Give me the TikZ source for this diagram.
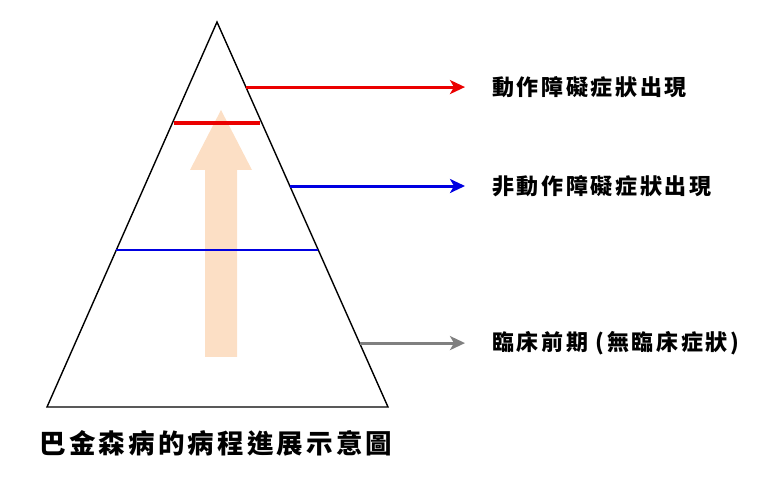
\documentclass[tikz,border=0pt]{standalone}
\usepackage{fontspec}
\newfontfamily\cjkfont[LetterSpace=12]{Noto Sans CJK TC}
\usepackage{tikz}
\usetikzlibrary{arrows.meta,positioning,calc}
\usepackage{xcolor}
\definecolor{peach}{RGB}{252,223,197}
\definecolor{stagered}{RGB}{235,0,0}
\definecolor{stageblue}{RGB}{0,0,225}
\definecolor{stagegray}{RGB}{128,128,128}

\begin{document}
\begin{tikzpicture}[x=1pt,y=-1pt,
    lbl/.style={anchor=west,inner sep=0pt,font=\cjkfont\bfseries\fontsize{22}{22}\selectfont},
    ptr/.style={line width=3pt,shorten >=27pt,-{Stealth[length=15pt,width=14pt,inset=4pt]}}]
    \useasboundingbox (0,0) rectangle (761,486);
    % progress arrow
    \fill[peach] (205,357) -- (205,170) -- (190,170) -- (221,110)
        -- (252,170) -- (237,170) -- (237,357) -- cycle;
    % pyramid
    \coordinate (apex) at (217,22);
    \coordinate (bl) at (47,407);
    \coordinate (br) at (388,407);
    \draw[line width=1.4pt] (apex) -- (br) -- (bl) -- cycle;
    % stage borders
    \draw[stagered,line width=4.5pt] ($(apex)!0.262!(bl)+(2,0)$) -- ($(apex)!0.262!(br)-(2,0)$);
    \draw[stageblue,line width=1.3pt] ($(apex)!0.592!(bl)$) -- ($(apex)!0.592!(br)$);
    \coordinate (e1) at ($(apex)!0.169!(br)$);
    \coordinate (e2) at ($(apex)!0.426!(br)$);
    \coordinate (e3) at ($(apex)!0.834!(br)$);
    % labels
    \node[lbl] (motor) at (492,87) {動作障礙症狀出現};
    \node[lbl] (nonmotor) at (492,186) {非動作障礙症狀出現};
    \node[lbl] (preclin) at (492,343) {臨床前期 (無臨床症狀)};
    \draw[ptr,stagered] (e1) -- (e1 -| motor.west);
    \draw[ptr,stageblue] (e2) -- (e2 -| nonmotor.west);
    \draw[ptr,stagegray] (e3) -- (e3 -| preclin.west);
    \node[font=\cjkfont\bfseries\fontsize{26.5}{26.5}\selectfont] (title) at (216,443) {巴金森病的病程進展示意圖};
\end{tikzpicture}
\end{document}
